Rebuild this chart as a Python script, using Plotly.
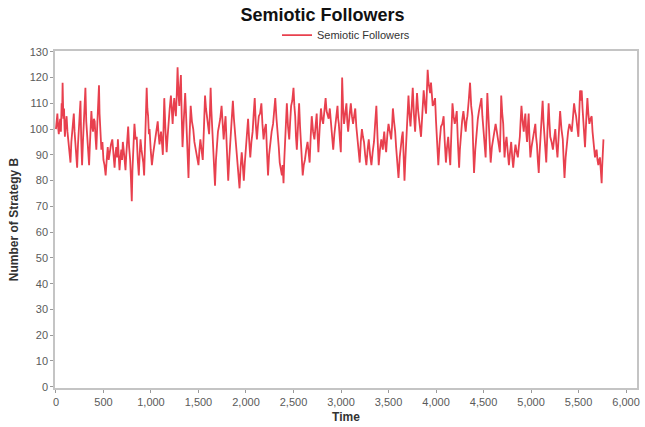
import plotly.graph_objects as go

time = [
    0,8,15,22,30,38,45,52,60,65,70,78,85,90,94,103,112,121,130,141,153,162,170,179,188,196,205,214,223,232,240,249,258,266,275,284,292,301,310,319,328,338,349,355,360,367,373,382,390,399,408,416,425,432,440,447,453,459,465,471,478,489,500,511,523,534,545,555,565,579,593,605,617,626,635,644,652,660,669,679,688,696,704,718,732,740,748,754,760,770,781,790,798,805,812,819,826,838,850,861,872,881,890,900,910,919,928,934,940,948,955,962,970,978,985,997,1010,1025,1040,1055,1071,1080,1090,1098,1106,1115,1125,1132,
    1140,1152,1165,1175,1185,1197,1210,1219,1228,1236,1245,1253,1262,1271,1280,1289,1298,1306,1315,1323,1332,1346,1360,1369,1378,1386,1395,1406,1418,1431,1445,1457,1470,1485,1500,1510,1520,1532,1545,1557,1569,1579,1590,1601,1612,1620,1628,1636,1645,1660,1674,1684,1695,1705,1715,1729,1743,1754,1765,1775,1785,1799,1813,1825,1838,1850,1862,1873,1885,1897,1910,1921,1932,1943,1955,1966,1977,1988,2000,2011,2022,2033,2045,2057,2070,2081,2092,2103,2115,2125,2135,2148,2162,2173,2185,2197,2210,2221,2232,2243,2255,2270,2285,2296,
    2308,2321,2335,2345,2355,2366,2378,2386,2395,2403,2412,2421,2430,2442,2455,2465,2475,2487,2500,2509,2518,2526,2535,2547,2559,2569,2580,2588,2597,2608,2620,2634,2648,2659,2670,2681,2692,2706,2720,2732,2744,2753,2762,2775,2789,2800,2812,2825,2838,2848,2858,2870,2882,2891,2900,2909,2918,2930,2942,2952,2963,2970,2977,2988,2998,3005,3012,3022,3032,3044,3057,3066,3075,3089,3103,3115,3127,3138,3150,3161,3172,3184,3197,3208,3220,3231,3242,3254,3267,3280,3292,3306,3320,3333,3347,3359,3372,3384,3397,3410,3424,3432,
    3440,3447,3455,3465,3475,3488,3500,3514,3528,3537,3546,3558,3570,3580,3590,3597,3605,3618,3632,3641,3650,3659,3668,3677,3686,3698,3710,3720,3731,3743,3755,3767,3780,3790,3800,3812,3825,3833,3842,3856,3870,3882,3895,3903,3912,3921,3930,3938,3947,3956,3965,3977,3990,4000,4010,4017,4024,4038,4052,4066,4080,4092,4104,4116,4128,4139,4150,4161,4173,4185,4197,4207,4218,4230,4243,4251,4260,4274,4288,4300,4312,4321,4330,4344,4358,4370,4382,4391,4400,4413,4427,4440,4452,4465,4478,4488,4498,4510,4522,4531,4540,4550,4560,4567,
    4575,4588,4602,4614,4627,4640,4652,4662,4672,4679,4686,4697,4707,4714,4721,4731,4742,4755,4767,4779,4791,4802,4812,4824,4836,4849,4861,4871,4882,4890,4899,4911,4923,4931,4940,4949,4958,4966,4975,4984,4993,5005,5017,5031,5045,5053,5062,5071,5081,5089,5098,5110,5122,5131,5140,5150,5160,5172,5185,5193,5202,5216,5230,5242,5255,5266,5278,5292,5306,5320,5334,5343,5352,5364,5376,5390,5404,5416,5428,5440,5453,5463,5474,5486,5498,5507,5516,5524,5533,5542,5551,5559,5568,5580,5593,5603,5614,5626,5638,5647,5656,5664,5673,5681,5690,5699,5708,5716,5725,5734,5743,5748,5752,5757,5762,
]

followers = [
    100,103,106,101,98,102,104,99,110,105,118,104,108,101,97,102,105,99,95,92,87,95,98,102,106,99,94,90,85,94,100,104,111,96,86,95,102,108,116,103,97,91,86,92,98,103,107,101,99,104,103,97,92,99,105,110,117,106,100,96,92,95,88,86,82,88,93,88,91,94,96,90,85,90,93,89,96,90,84,89,92,88,95,90,84,90,94,98,101,93,88,80,72,84,90,96,102,96,97,88,82,90,96,92,90,87,82,92,100,108,116,108,105,98,100,92,86,91,95,99,103,98,94,97,99,95,90,100,
    112,100,91,97,104,108,113,106,102,108,112,108,105,113,124,114,109,116,121,106,93,104,114,106,99,90,81,97,109,103,100,95,92,89,86,92,96,92,88,100,113,108,105,101,98,106,116,107,101,89,78,88,96,99,101,104,109,101,96,101,105,92,80,89,96,104,111,104,99,93,88,83,77,85,91,86,80,87,92,99,104,96,89,95,99,106,112,102,96,101,105,106,110,102,96,100,102,91,82,90,95,99,102,107,
    112,104,99,93,87,85,82,86,79,88,94,103,110,101,96,103,109,111,116,109,105,97,92,101,110,101,93,88,82,86,88,92,95,91,87,97,105,99,96,101,106,98,91,100,108,104,102,107,112,107,105,104,108,103,99,95,92,98,102,106,109,104,102,96,91,104,120,108,102,106,110,103,99,105,110,105,102,105,108,101,96,91,87,95,100,97,95,90,86,92,96,90,86,91,95,102,109,97,86,92,96,94,
    92,96,99,94,91,98,102,99,96,101,108,103,99,93,88,85,81,89,95,97,99,89,80,88,94,104,113,106,101,108,116,106,99,107,114,107,102,99,97,106,115,110,106,114,123,118,115,114,118,112,109,110,112,103,96,90,86,95,101,102,105,95,87,93,97,91,86,98,110,105,102,104,107,95,85,92,97,103,107,102,99,103,105,111,118,109,105,93,83,92,99,104,107,109,112,105,100,94,89,101,114,106,100,93,
    87,93,97,100,102,99,96,93,91,101,113,106,102,95,89,94,97,91,86,91,95,89,85,90,94,91,89,93,97,103,109,103,99,103,106,99,95,101,106,96,89,93,96,99,102,97,94,88,83,90,95,103,111,103,97,91,87,99,110,103,97,95,92,96,100,94,89,98,107,100,96,88,81,89,95,99,102,100,99,104,110,107,105,101,97,106,115,111,115,108,102,97,93,103,112,106,102,104,105,99,95,91,89,91,92,88,86,88,89,84,79,85,91,94,96,
]

x_ticks = [0,500,1000,1500,2000,2500,3000,3500,4000,4500,5000,5500,6000]
x_tick_labels = ["0","500","1,000","1,500","2,000","2,500","3,000","3,500","4,000","4,500","5,000","5,500","6,000"]
y_ticks = list(range(0, 131, 10))

FONT = "Liberation Sans, Arial, sans-serif"

fig = go.Figure()
fig.add_trace(go.Scatter(
    x=time, y=followers, mode="lines", name="Semiotic Followers",
    line=dict(color="#E8404E", width=1.8),
))

axis_common = dict(
    showgrid=False, zeroline=False, showline=True, mirror=True,
    linecolor="#c4c4c4", linewidth=1.5,
    ticks="outside", ticklen=3, tickcolor="#9a9a9a",
    tickfont=dict(family=FONT, size=11, color="#5a5a5a"),
)

fig.update_layout(
    width=645, height=427,
    margin=dict(l=55, r=5, t=51, b=39),
    paper_bgcolor="white", plot_bgcolor="white",
    title=dict(text="<b>Semiotic Followers</b>", x=0.5, xanchor="center",
               y=1 - 15/427, yanchor="middle",
               font=dict(family=FONT, size=18, color="#111111")),
    showlegend=True,
    legend=dict(orientation="h", x=0.5, xanchor="center", y=1.047, yanchor="middle",
                font=dict(family=FONT, size=11, color="#333333"),
                bgcolor="rgba(0,0,0,0)", itemwidth=30),
    xaxis=dict(range=[-10, 6115], tickvals=x_ticks, ticktext=x_tick_labels,
               title=dict(text="<b>Time</b>", standoff=6,
                          font=dict(family=FONT, size=12, color="#333333")),
               **axis_common),
    yaxis=dict(range=[-0.5, 130.3], tickvals=y_ticks,
               title=dict(text="<b>Number of Strategy B</b>", standoff=8,
                          font=dict(family=FONT, size=12, color="#333333")),
               **axis_common),
)

fig.write_html("out.html", config={"displayModeBar": False},
               post_script="document.body.style.margin='0';document.body.style.padding='0';document.body.style.overflow='hidden';")
